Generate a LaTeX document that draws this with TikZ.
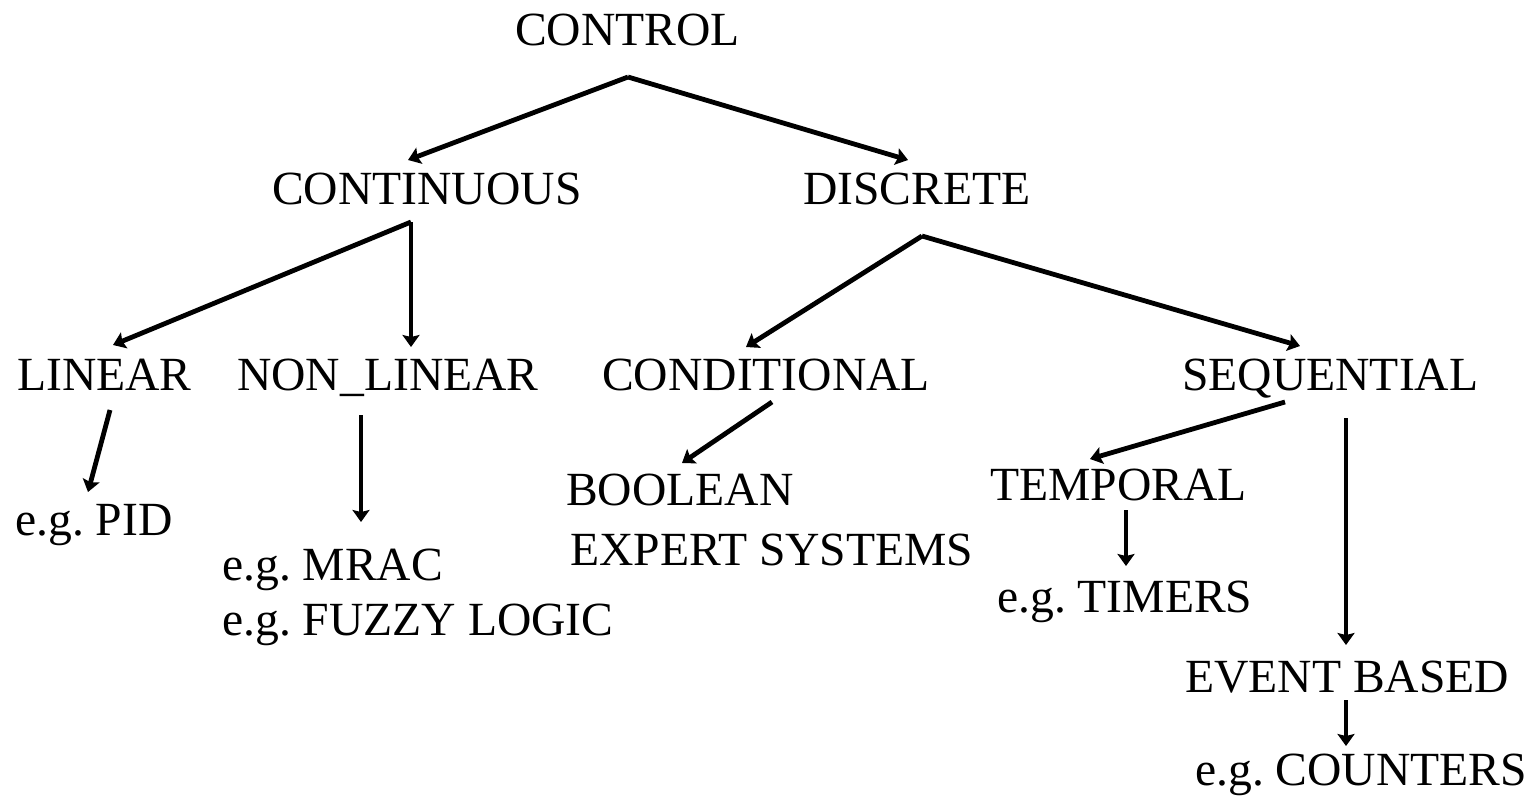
\documentclass[tikz,border=0pt]{standalone}
\usepackage{fontspec}
\setmainfont{Liberation Serif}
\usetikzlibrary{arrows.meta}
\begin{document}
\frenchspacing
\begin{tikzpicture}[x=1pt,y=-1pt,
  lbl/.style={anchor=base west,inner sep=0pt,font=\fontsize{47.6}{57}\selectfont},
  arr/.style={line width=4.8pt,-{Stealth[length=12pt,width=17pt,inset=2pt]},line join=miter}]
\useasboundingbox (0,0) rectangle (1539,795);
% texts
\node[lbl] (control) at (515,45) {CONTROL};
\node[lbl] (cont) at (272,204) {CONTINUOUS};
\node[lbl] (disc) at (803,204) {DISCRETE};
\node[lbl] (lin) at (17,390) {LINEAR};
\node[lbl] (nonlin) at (237,390) {NON\_LINEAR};
\node[lbl] (cond) at (602,390) {CONDITIONAL};
\node[lbl] (seq) at (1182,390) {SEQUENTIAL};
\node[lbl] (pid) at (15,535) {e.g. PID};
\node[lbl] (mrac) at (222,580) {e.g. MRAC};
\node[lbl] (fuzzy) at (222,635) {e.g. FUZZY LOGIC};
\node[lbl] (bool) at (566,505) {BOOLEAN};
\node[lbl] (expert) at (570,565) {EXPERT SYSTEMS};
\node[lbl] (temp) at (990,500) {TEMPORAL};
\node[lbl] (timers) at (997,612) {e.g. TIMERS};
\node[lbl] (event) at (1185,692) {EVENT BASED};
\node[lbl] (count) at (1195,785) {e.g. COUNTERS};
% connector points
\coordinate (cA) at (628,77);
\coordinate (cL) at (408,160);
\coordinate (cR) at (908,160);
\coordinate (nA) at (411,222);
\coordinate (nL) at (113,345);
\coordinate (nR) at (411,347);
\coordinate (lS) at (110,410);
\coordinate (lE) at (88,492);
\coordinate (mS) at (361,415);
\coordinate (mE) at (361,522);
\coordinate (dA) at (922,236);
\coordinate (dL) at (746,347);
\coordinate (dR) at (1300,346);
\coordinate (bS) at (772,402);
\coordinate (bE) at (682,463);
\coordinate (sS) at (1285,402);
\coordinate (sL) at (1090,459);
\coordinate (vS) at (1346,418);
\coordinate (vE) at (1346,645);
\coordinate (tS) at (1126,510);
\coordinate (tE) at (1126,566);
\coordinate (eS) at (1346,700);
\coordinate (eE) at (1346,746);
% connectors
\draw[arr] (cA) -- (cL);
\draw[arr] (cA) -- (cR);
\draw[arr] (nA) -- (nL);
\draw[arr] (nA) -- (nR);
\draw[arr] (lS) -- (lE);
\draw[arr] (mS) -- (mE);
\draw[arr] (dA) -- (dL);
\draw[arr] (dA) -- (dR);
\draw[arr] (bS) -- (bE);
\draw[arr] (sS) -- (sL);
\draw[arr] (vS) -- (vE);
\draw[arr] (tS) -- (tE);
\draw[arr] (eS) -- (eE);
\end{tikzpicture}
\end{document}
